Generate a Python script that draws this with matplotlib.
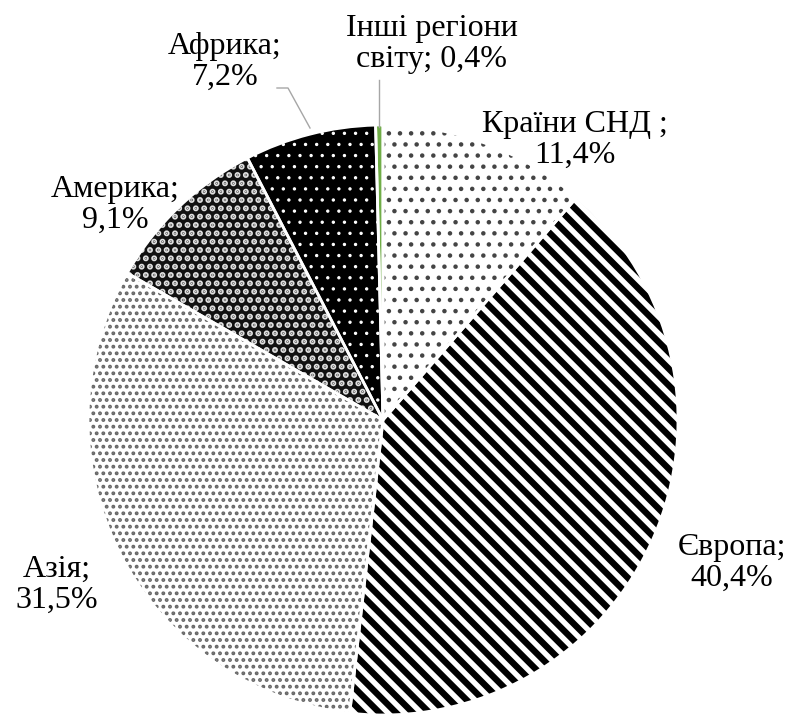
import matplotlib
matplotlib.use("Agg")
import matplotlib.pyplot as plt

regions = ["Країни СНД ;", "Європа;", "Азія;", "Америка;", "Африка;", "Інші регіони\nсвіту;"]
shares = [11.4, 40.4, 31.5, 9.1, 7.2, 0.4]

faces = ["white", "white", "white", "#111111", "black", "#70AD47"]
hatch_cols = ["#444444", "black", "#666666", "#e0e0e0", "white", "#70AD47"]
hatches = ["...", "\\\\\\\\", ".....", "....", "...", None]
hatch_lws = [0.8, 2.3, 0.9, 1.5, 0.4, 0.5]

# label positions in pixels (x, y from top)
label_pos = [(575, 140), (732, 563), (57, 585), (115, 205), (225, 62), (432, 44)]

W, H = 790, 716
plt.rcParams['font.family'] = 'serif'
plt.rcParams['font.serif'] = ['Liberation Serif', 'Times New Roman', 'DejaVu Serif']

fig = plt.figure(figsize=(W / 200, H / 200), dpi=200)
ax = fig.add_axes([0, 0, 1, 1])

cx, cy, r = 383, H - 420, 295

wedges, _ = ax.pie(shares, startangle=90, counterclock=False, center=(cx, cy),
                   radius=r, frame=True, wedgeprops=dict(linewidth=0))
for w, fc, hc, h, lw in zip(wedges, faces, hatch_cols, hatches, hatch_lws):
    w.set_facecolor(fc)
    w.set_edgecolor(hc)
    w.set_linewidth(0)
    if h:
        if hasattr(w, "set_hatch_linewidth"):
            w.set_hatch_linewidth(lw)
        w.set_hatch(h)

# white separators
ax.pie(shares, startangle=90, counterclock=False, center=(cx, cy), radius=r,
       frame=True, wedgeprops=dict(facecolor='none', edgecolor='white', linewidth=1.0))
ax.set_xlim(0, W)
ax.set_ylim(0, H)
ax.set_aspect('equal')
ax.axis('off')

for name, val, (lx, ly) in zip(regions, shares, label_pos):
    pct = f"{val:.1f}%".replace(".", ",")
    txt = f"{name} {pct}" if "\n" in name else f"{name}\n{pct}"
    ax.text(lx, H - ly, txt, ha='center', va='center', fontsize=11.5,
            linespacing=1.12, fontfamily='Liberation Serif')

# leader lines
ax.plot([379, 379], [H - 80, H - 127], color='#a6a6a6', lw=0.5)
ax.plot([277, 288, 310], [H - 88, H - 88, H - 128], color='#a6a6a6', lw=0.5)

fig.savefig("out.png", dpi=200)
